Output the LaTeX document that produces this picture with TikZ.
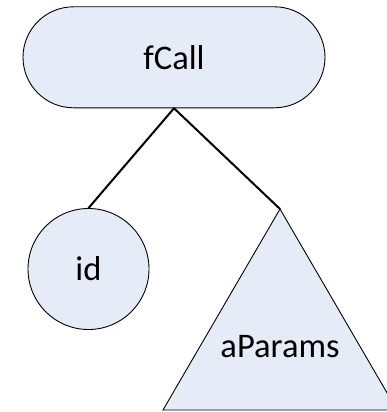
\documentclass[tikz,border=0pt]{standalone}
\usepackage{fontspec}
\setmainfont{Carlito}
\definecolor{nodefill}{RGB}{230,236,247}
\begin{document}
\begin{tikzpicture}[x=1pt,y=-1pt,
  shapeline/.style={draw=black,line width=0.9pt,fill=nodefill},
  lbl/.style={font=\fontsize{34.5}{40}\selectfont,inner sep=0pt},
  edge/.style={line width=2pt,line cap=round}]
\useasboundingbox (0,0) rectangle (387,412);
\clip (0,0) rectangle (387,412);
\node[shapeline,lbl,rectangle,rounded corners=50.5pt,minimum width=302pt,minimum height=101pt] (fc) at (174,57.3) {fCall};
\node[shapeline,lbl,circle,minimum size=121pt] (id) at (88.5,269) {id};
\coordinate (apex) at (280,209);
\coordinate (bl) at (163,410);
\coordinate (br) at (397,410);
\path[shapeline,line join=miter] (apex) -- (bl) -- (br) -- cycle;
\node[lbl] (ap) at (280,347) {aParams};
\draw[edge] (fc.south) -- (id.north);
\draw[edge] (fc.south) -- (apex);
\end{tikzpicture}
\end{document}
